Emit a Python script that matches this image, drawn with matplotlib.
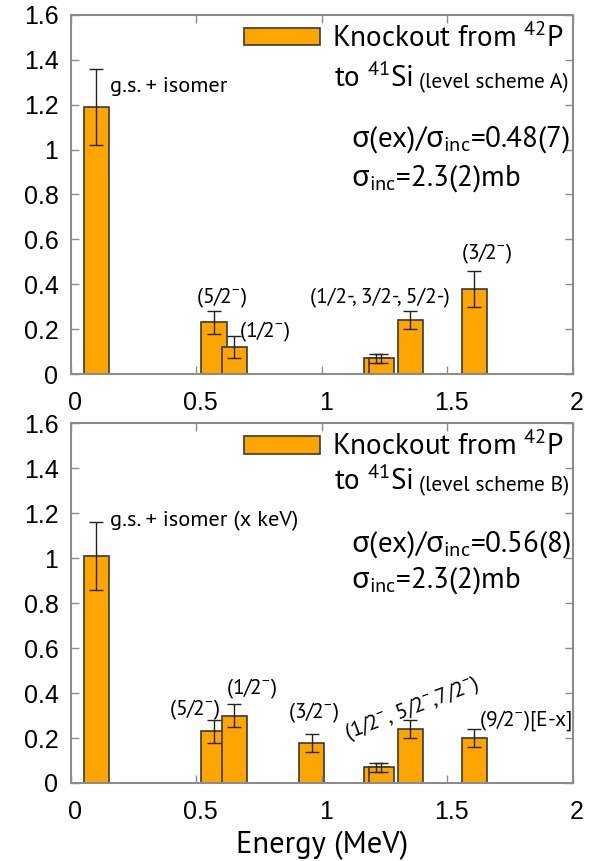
import matplotlib
matplotlib.use('Agg')
from matplotlib import pyplot as plt
from matplotlib import font_manager
from matplotlib.ticker import FuncFormatter
from matplotlib.transforms import ScaledTranslation
import numpy as np

# Myriad-like font for the annotations, Arial-like for the tick labels
avail = {f.name for f in font_manager.fontManager.ttflist}
text_font = next(f for f in ['Source Sans Pro', 'PT Sans', 'Noto Sans', 'DejaVu Sans'] if f in avail)
tick_font = next(f for f in ['Liberation Sans', 'DejaVu Sans'] if f in avail)
greek_font = next(f for f in ['Noto Sans', 'DejaVu Sans'] if f in avail)
plt.rcParams['font.family'] = [text_font, 'DejaVu Sans']
plt.rcParams['mathtext.fontset'] = 'custom'
plt.rcParams['mathtext.rm'] = greek_font

# level scheme A
energy_a = [0.10, 0.57, 0.65, 1.216, 1.236, 1.352, 1.608]
xsec_a = [1.19, 0.23, 0.12, 0.07, 0.07, 0.24, 0.38]
err_a = [0.17, 0.05, 0.05, 0.02, 0.02, 0.04, 0.08]

# level scheme B
energy_b = [0.10, 0.57, 0.65, 0.96, 1.216, 1.236, 1.352, 1.608]
xsec_b = [1.01, 0.23, 0.30, 0.18, 0.07, 0.07, 0.24, 0.20]
err_b = [0.15, 0.05, 0.05, 0.04, 0.02, 0.02, 0.04, 0.04]

ratio_a = '0.48(7)'
ratio_b = '0.56(8)'
sigma_inc = '2.3(2)mb'

bar_color = '#FFA500'
edge = '#3a3a3a'
frame = '#8c8c8c'
big = 21
lab = 15.5
sig = r'$\mathrm{\sigma}$'
sig_inc = r'$\mathrm{\sigma}_{\mathregular{inc}}$'

fig = plt.figure(figsize=(5.89, 8.61), dpi=100)
ax1 = fig.add_axes([0.1205, 0.5656, 0.852, 0.417])
ax2 = fig.add_axes([0.1205, 0.0906, 0.852, 0.418])


def draw_panel(ax, energy, xsec, err, scheme, ratio, y_to, y_s1, y_s2):
    for i in range(len(energy)):
        ax.bar(energy[i], xsec[i], width=0.1, color=bar_color, edgecolor=edge, linewidth=1.2,
               yerr=err[i], error_kw=dict(ecolor='#222222', elinewidth=1, capsize=5, capthick=1),
               label=r'Knockout from $\mathregular{^{42}}$P' if i == 0 else None)
    ax.set_xlim(0, 2)
    ax.set_ylim(0, 1.6)
    ax.set_xticks([0, 0.5, 1, 1.5, 2])
    ax.set_yticks(np.arange(0, 1.61, 0.2))
    fmt = FuncFormatter(lambda v, p: f'{v:g}')
    ax.xaxis.set_major_formatter(fmt)
    ax.yaxis.set_major_formatter(fmt)
    ax.tick_params(direction='in', top=True, right=True, length=6, width=1, color=frame, labelsize=18)
    ax.tick_params(axis='x', pad=12)
    ax.tick_params(axis='y', pad=9)
    for t in ax.get_xticklabels() + ax.get_yticklabels():
        t.set_fontfamily(tick_font)
    shift = ScaledTranslation(4 / 100, 0, fig.dpi_scale_trans)
    for t in ax.get_xticklabels():
        t.set_transform(t.get_transform() + shift)
    for s in ax.spines.values():
        s.set_color(frame)
        s.set_linewidth(1.5)
    ax.legend(loc='upper right', bbox_to_anchor=(1.0, 1.0), frameon=False, fontsize=big,
              handlelength=2.6, handleheight=0.55, handletextpad=0.42, borderaxespad=0.0,
              borderpad=0.3)
    t2 = ax.text(1.05, y_to, r'to $\mathregular{^{41}}$Si', fontsize=big, ha='left', va='baseline')
    ax.annotate(f'(level scheme {scheme})', xy=(1, 0), xycoords=t2, xytext=(4, 0),
                textcoords='offset points', fontsize=lab, ha='left', va='bottom')
    ax.text(1.115, y_s1, sig + '(ex)/' + sig_inc + '=' + ratio, fontsize=big, ha='left', va='baseline')
    ax.text(1.115, y_s2, sig_inc + '=' + sigma_inc, fontsize=big, ha='left', va='baseline')


draw_panel(ax1, energy_a, xsec_a, err_a, 'A', ratio_a, 1.279, 1.012, 0.842)
draw_panel(ax2, energy_b, xsec_b, err_b, 'B', ratio_b, 1.303, 1.029, 0.868)

ax1.text(0.154, 1.28, 'g.s. + isomer', fontsize=16, ha='left', va='center')
ax1.text(0.60, 0.34, r'(5/2$\mathregular{^{-}}$)', fontsize=lab, ha='center', va='center')
ax1.text(0.668, 0.19, r'(1/2$\mathregular{^{-}}$)', fontsize=lab, ha='left', va='center')
ax1.text(1.23, 0.34, '(1/2-, 3/2-, 5/2-)', fontsize=lab, ha='center', va='center')
ax1.text(1.657, 0.535, r'(3/2$\mathregular{^{-}}$)', fontsize=lab, ha='center', va='center')

ax2.text(0.154, 1.165, 'g.s. + isomer (x keV)', fontsize=16, ha='left', va='center')
ax2.text(0.49, 0.326, r'(5/2$\mathregular{^{-}}$)', fontsize=lab, ha='center', va='center')
ax2.text(0.72, 0.42, r'(1/2$\mathregular{^{-}}$)', fontsize=lab, ha='center', va='center')
ax2.text(0.968, 0.31, r'(3/2$\mathregular{^{-}}$)', fontsize=lab, ha='center', va='center')
ax2.text(1.36, 0.33, r'(1/2$\mathregular{^{-}}$, 5/2$\mathregular{^{-}}$,7/2$\mathregular{^{-}}$)',
         fontsize=lab, ha='center', va='center', rotation=21)
ax2.text(1.627, 0.275, r'(9/2$\mathregular{^{-}}$)[E-x]', fontsize=lab, ha='left', va='center')

ax2.set_xlabel('Energy (MeV)', fontsize=22, labelpad=5)

plt.savefig('out.png', dpi=100)
